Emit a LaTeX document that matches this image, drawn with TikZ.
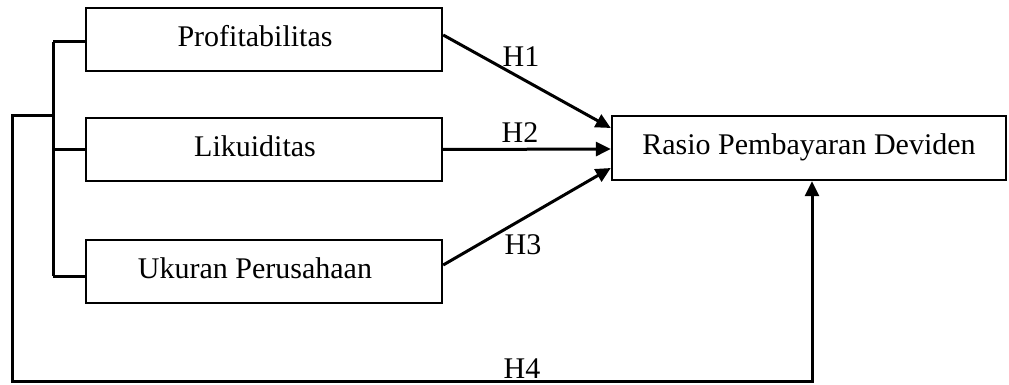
\documentclass[tikz,border=0pt]{standalone}
\usepackage{fontspec}
\setmainfont{Liberation Serif}
\usetikzlibrary{arrows.meta}
\begin{document}
\begin{tikzpicture}[x=1pt,y=-1pt,
  box/.style={draw,line width=2.4pt,inner sep=0pt,text height=21pt,text depth=7.5pt},
  lbl/.style={inner sep=1pt},
  conn/.style={line width=3pt},
  arr/.style={line width=3pt,-{Triangle[length=15pt,width=14pt]}},
  every node/.append style={font=\fontsize{30}{36}\selectfont}]
\useasboundingbox (0,0) rectangle (1009,385);
\node[box,minimum width=356pt,minimum height=63pt] (P) at (264,39.5) {Profitabilitas\kern18pt};
\node[box,minimum width=356pt,minimum height=63pt] (L) at (264,149.5) {Likuiditas\kern18pt};
\node[box,minimum width=356pt,minimum height=63pt] (U) at (264,271.5) {Ukuran Perusahaan\kern18pt};
\node[box,minimum width=394pt,minimum height=64pt] (R) at (809,148) {Rasio Pembayaran Deviden};
% bracket
\coordinate (b1) at (53,42);
\coordinate (b3) at (53,276);
\coordinate (j) at (53,116);
\draw[conn] (b1) -- (b3);
\draw[conn] (b1) -- (b1 -| P.west);
\draw[conn] (53,149.5) -- (L.west);
\draw[conn] (b3) -- (b3 -| U.west);
% outer loop H4
\coordinate (c1) at (12,116);
\coordinate (c2) at (12,381);
\coordinate (c3) at (812,381);
\draw[arr] (j) -- (c1) -- (c2) -- (c3) -- (c3 |- R.south);
% arrows
\draw[arr] ([yshift=4.5pt]P.east) -- ([yshift=20pt]R.west);
\draw[arr] (L.east) -- ([yshift=-1pt]R.west);
\draw[arr] ([yshift=6.5pt]U.east) -- ([yshift=-20pt]R.west);
% labels
\node[lbl] (h1) at (521,57) {H1};
\node[lbl] (h2) at (520,133) {H2};
\node[lbl] (h3) at (523,245) {H3};
\node[lbl] (h4) at (522,369) {H4};
\end{tikzpicture}
\end{document}
